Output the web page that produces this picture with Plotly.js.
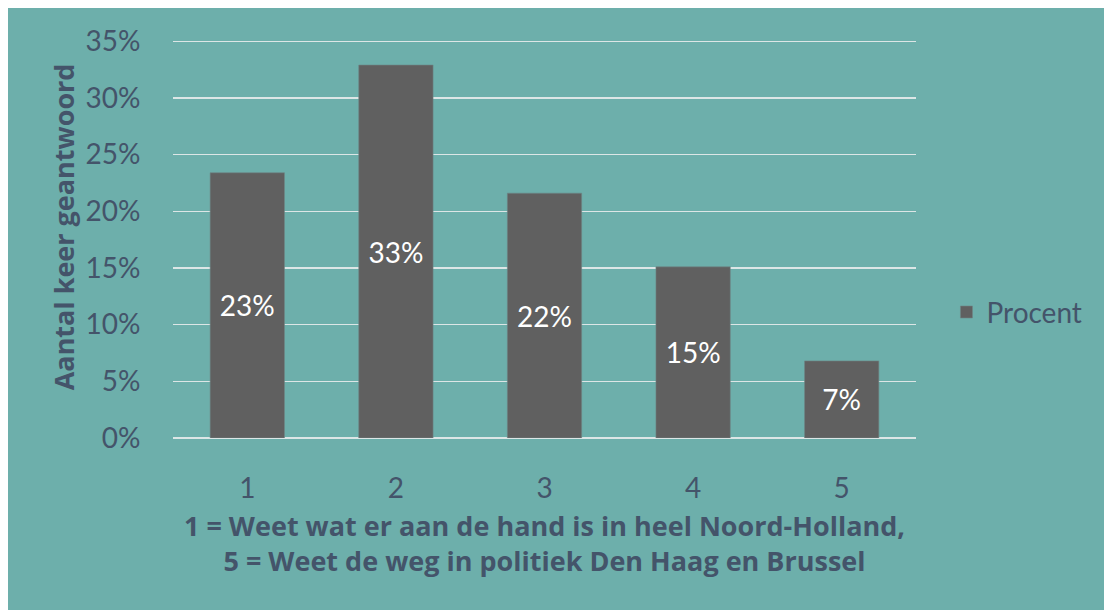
<!DOCTYPE html>
<html>
<head>
<meta charset="utf-8">
<script src="https://cdn.plot.ly/plotly-3.0.1.min.js"></script>
<style>
html,body{margin:0;padding:0;background:#ffffff;}
#chart{position:absolute;left:8px;top:8px;width:1096px;height:602px;}
</style>
</head>
<body>
<div id="chart"></div>
<script>
const categories = ['1', '2', '3', '4', '5'];
const procent = [0.234, 0.329, 0.216, 0.151, 0.068];
const seriesName = 'Procent';
const yTickVals = [0, 0.05, 0.10, 0.15, 0.20, 0.25, 0.30, 0.35];
const yTickText = ['0%', '5%', '10%', '15%', '20%', '25%', '30%', '35%'];
const xTitle = '1 = Weet wat er aan de hand is in heel Noord-Holland,<br>5 = Weet de weg in politiek Den Haag en Brussel';
const yTitle = 'Aantal keer geantwoord';

const textColor = '#44546A';
const fontFam = 'Lato, "Open Sans", sans-serif';
const boldFam = '"Open Sans", Lato, sans-serif';

const trace = {
  type: 'bar',
  x: categories,
  y: procent,
  name: seriesName,
  marker: {color: '#606060', line: {color: '#6f8584', width: 0.6}},
  texttemplate: '%{y:.0%}',
  textposition: 'inside',
  insidetextanchor: 'middle',
  textangle: 0,
  textfont: {color: '#ffffff', size: 28, family: fontFam},
  showlegend: true,
  hoverinfo: 'skip'
};

const layout = {
  width: 1096,
  height: 602,
  paper_bgcolor: '#6DAFAB',
  plot_bgcolor: '#6DAFAB',
  margin: {l: 165, r: 188, t: 31, b: 172},
  bargap: 0.5,
  font: {family: fontFam, color: textColor, size: 27},
  xaxis: {
    type: 'category',
    tickfont: {size: 28, color: textColor},
    ticks: 'outside', ticklen: 25, tickcolor: 'rgba(0,0,0,0)',
    showgrid: false, zeroline: false, showline: false,
    title: {text: xTitle, font: {size: 27, color: textColor, family: boldFam, weight: 'bold'}, standoff: 14}
  },
  yaxis: {
    range: [0, 0.352],
    tickvals: yTickVals,
    ticktext: yTickText,
    tickfont: {size: 28, color: textColor},
    ticks: 'outside', ticklen: 26, tickcolor: 'rgba(0,0,0,0)',
    showgrid: true, gridcolor: '#dce6e6', gridwidth: 1.5,
    zeroline: true, zerolinecolor: '#dce6e6', zerolinewidth: 1.5,
    showline: false
  },
  annotations: [{
    text: yTitle, textangle: -90,
    xref: 'paper', yref: 'paper', x: -0.147, y: 0.53,
    xanchor: 'center', yanchor: 'middle', showarrow: false,
    font: {size: 27, color: textColor, family: boldFam, weight: 'bold'}
  }],
  legend: {
    x: 1.041, xanchor: 'left', y: 0.315, yanchor: 'middle',
    bgcolor: 'rgba(0,0,0,0)',
    font: {size: 28, color: textColor}
  },
  showlegend: true
};

Plotly.newPlot('chart', [trace], layout, {displayModeBar: false, staticPlot: true});
</script>
</body>
</html>
